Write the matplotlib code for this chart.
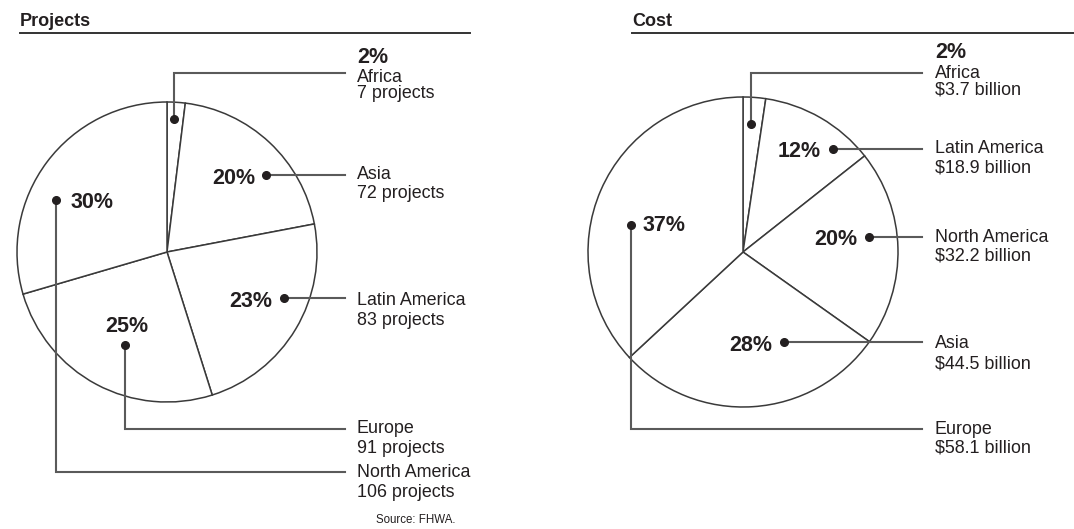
import matplotlib
matplotlib.use("Agg")
import matplotlib.pyplot as plt

# ---------------- data ----------------
proj_regions = ["Africa", "Asia", "Latin America", "Europe", "North America"]
proj_counts = [7, 72, 83, 91, 106]
proj_pct = ["2%", "20%", "23%", "25%", "30%"]

cost_regions = ["Africa", "Latin America", "North America", "Asia", "Europe"]
cost_billion = [3.7, 18.9, 32.2, 44.5, 58.1]
cost_pct = ["2%", "12%", "20%", "28%", "37%"]

# ---------------- style ----------------
W, H = 1074, 529
FONT = "Liberation Sans"
TXT = "#231f20"
EDGE = "#3a3a3a"
LEAD = "#5a5a5a"
BODY_FS = 12.9
PCT_FS = 15.5

fig = plt.figure(figsize=(W / 100, H / 100), dpi=100)
ax = fig.add_axes([0, 0, 1, 1])


def draw_pie(values, center, radius):
    # y axis is inverted below: startangle -90 + counterclock => clockwise from top visually
    ax.pie(values, center=center, radius=radius, startangle=-90, counterclock=True,
           colors=["white"] * len(values),
           wedgeprops=dict(edgecolor=EDGE, linewidth=1.1), frame=False)


def leader(points, dot):
    xs = [p[0] for p in points]
    ys = [p[1] for p in points]
    ax.plot(xs, ys, color=LEAD, lw=1.5, solid_joinstyle="miter", zorder=3)
    ax.plot([dot[0]], [dot[1]], "o", color=TXT, ms=5.5, zorder=4)


def body(x, y, s):
    ax.text(x, y, s, fontsize=BODY_FS, family=FONT, color=TXT, ha="left", va="baseline")


def pct(x, y, s, ha="left"):
    ax.text(x, y, s, fontsize=PCT_FS, family=FONT, weight="bold", color=TXT, ha=ha, va="baseline")


# ---------------- left: projects ----------------
draw_pie(proj_counts, (167, 252), 150)
ax.text(20, 26, "Projects", fontsize=13, family=FONT, weight="bold", color=TXT, va="baseline")
ax.plot([20, 470], [33, 33], color="#333333", lw=1.4)

LX = 357
# Africa
leader([(174, 119), (174, 73), (345, 73)], (174, 119))
pct(LX, 63, proj_pct[0])
body(LX, 82, proj_regions[0])
body(LX, 98, f"{proj_counts[0]} projects")
# Asia
leader([(266, 175), (345, 175)], (266, 175))
pct(255, 184, proj_pct[1], ha="right")
body(LX, 179, proj_regions[1])
body(LX, 198, f"{proj_counts[1]} projects")
# Latin America
leader([(284, 298), (345, 298)], (284, 298))
pct(272, 307, proj_pct[2], ha="right")
body(LX, 305, proj_regions[2])
body(LX, 325, f"{proj_counts[2]} projects")
# Europe
leader([(125, 345), (125, 429), (345, 429)], (125, 345))
pct(105, 332, proj_pct[3])
body(LX, 433, proj_regions[3])
body(LX, 453, f"{proj_counts[3]} projects")
# North America
leader([(56, 200), (56, 472), (345, 472)], (56, 200))
pct(71, 208, proj_pct[4])
body(LX, 477, proj_regions[4])
body(LX, 497, f"{proj_counts[4]} projects")

ax.text(416, 523, "Source: FHWA.", fontsize=8.3, family=FONT, color=TXT, ha="center", va="baseline")

# ---------------- right: cost ----------------
draw_pie(cost_billion, (743, 252), 155)
ax.text(632, 26, "Cost", fontsize=13, family=FONT, weight="bold", color=TXT, va="baseline")
ax.plot([632, 1074], [33, 33], color="#333333", lw=1.4)

RX = 935
# Africa
leader([(751, 124), (751, 73), (922, 73)], (751, 124))
pct(RX, 58, cost_pct[0])
body(RX, 78, cost_regions[0])
body(RX, 94, f"${cost_billion[0]} billion")
# Latin America
leader([(833, 149), (922, 149)], (833, 149))
pct(821, 157, cost_pct[1], ha="right")
body(RX, 153, cost_regions[1])
body(RX, 172, f"${cost_billion[1]} billion")
# North America
leader([(869, 237), (922, 237)], (869, 237))
pct(857, 245, cost_pct[2], ha="right")
body(RX, 242, cost_regions[2])
body(RX, 261, f"${cost_billion[2]} billion")
# Asia
leader([(784, 342), (922, 342)], (784, 342))
pct(772, 351, cost_pct[3], ha="right")
body(RX, 348, cost_regions[3])
body(RX, 368, f"${cost_billion[3]} billion")
# Europe
leader([(631, 225), (631, 429), (922, 429)], (631, 225))
pct(643, 231, cost_pct[4])
body(RX, 434, cost_regions[4])
body(RX, 453, f"${cost_billion[4]} billion")

ax.set_xlim(0, W)
ax.set_ylim(H, 0)
ax.set_aspect("equal")
ax.axis("off")

fig.savefig("out.png", dpi=100, facecolor="white")
